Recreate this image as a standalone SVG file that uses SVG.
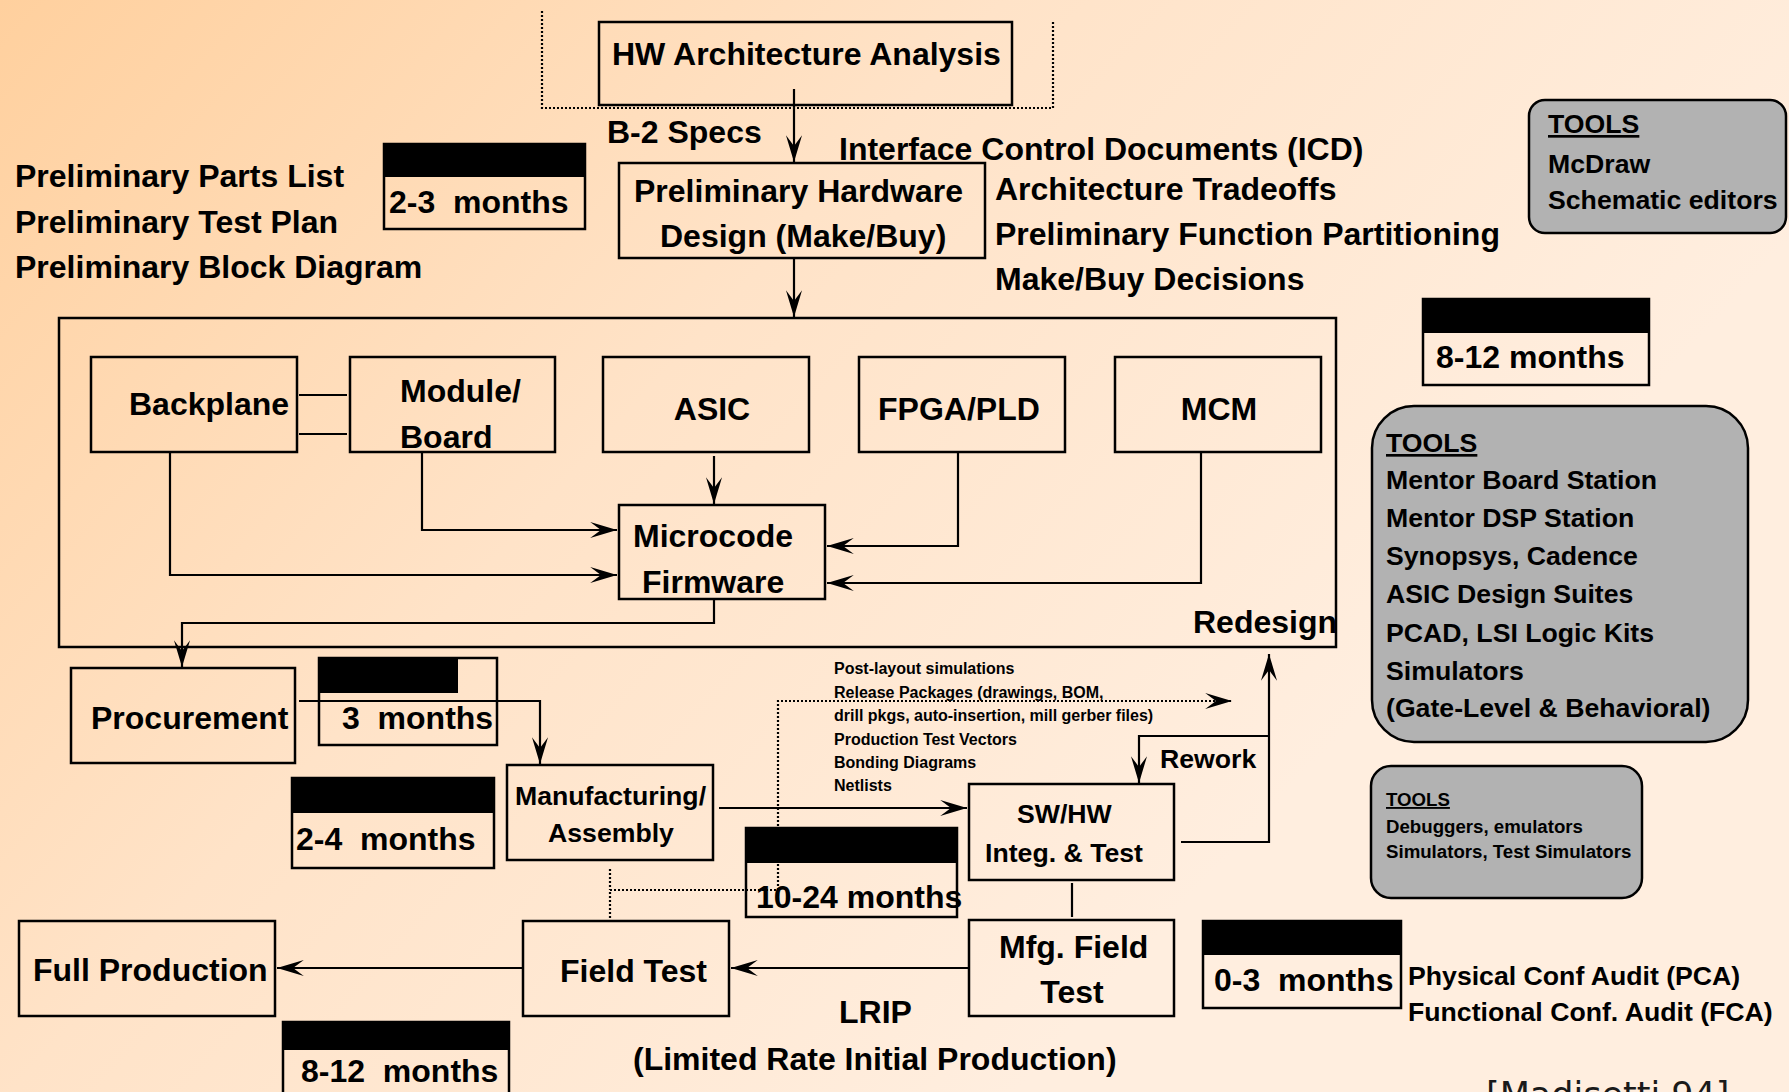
<svg xmlns="http://www.w3.org/2000/svg" width="1789" height="1092" viewBox="0 0 1789 1092">
  <defs>
    <linearGradient id="bg" gradientUnits="userSpaceOnUse" x1="0" y1="0" x2="1100" y2="1000">
      <stop offset="0" stop-color="#FFD09E"/>
      <stop offset="0.5" stop-color="#FFE3C8"/>
      <stop offset="1" stop-color="#FFEEDF"/>
    </linearGradient>
    <marker id="arrow" markerUnits="userSpaceOnUse" markerWidth="30" markerHeight="20" viewBox="-26 -9 28 18" refX="0" refY="0" orient="auto">
      <path d="M0,0 L-25,-7.5 L-15,0 L-25,7.5 Z" fill="#000"/>
    </marker>
  </defs>
  <style>
    text { font-family: "Liberation Sans", Arial, sans-serif; font-weight: bold; fill: #000; }
    .l { font-size: 32px; }
    .m { font-size: 26.67px; }
    .s { font-size: 18.67px; }
    .xs { font-size: 16px; }
    .box { fill: none; stroke: #000; stroke-width: 2.5; }
    .tools { fill: #B2B2B2; stroke: #000; stroke-width: 2.5; }
    .band { fill: #000; }
    .conn { fill: none; stroke: #000; stroke-width: 2.2; }
    .arr { marker-end: url(#arrow); }
    .dot { fill: none; stroke: #000; stroke-width: 2.2; stroke-dasharray: 2 2; }
    .ul { text-decoration: underline; }
  </style>

  <rect x="0" y="0" width="1789" height="1092" fill="url(#bg)"/>

  <!-- free-standing annotations -->
  <g id="notes">
    <text class="l" x="15" y="187">Preliminary Parts List</text>
    <text class="l" x="15" y="233">Preliminary Test Plan</text>
    <text class="l" x="15" y="278">Preliminary Block Diagram</text>
    <text class="l" x="607" y="143">B-2 Specs</text>
    <text class="l" x="839" y="160">Interface Control Documents (ICD)</text>
    <text class="l" x="995" y="200">Architecture Tradeoffs</text>
    <text class="l" x="995" y="245">Preliminary Function Partitioning</text>
    <text class="l" x="995" y="290">Make/Buy Decisions</text>
    <text class="l" x="1193" y="633">Redesign</text>
    <text class="m" x="1160" y="768">Rework</text>
    <text class="xs" x="834" y="674">Post-layout simulations</text>
    <text class="xs" x="834" y="698">Release Packages (drawings, BOM,</text>
    <text class="xs" x="834" y="721">drill pkgs, auto-insertion, mill gerber files)</text>
    <text class="xs" x="834" y="745">Production Test Vectors</text>
    <text class="xs" x="834" y="768">Bonding Diagrams</text>
    <text class="xs" x="834" y="791">Netlists</text>
    <text class="l" x="839" y="1023">LRIP</text>
    <text class="l" x="633" y="1070">(Limited Rate Initial Production)</text>
    <text class="m" x="1408" y="985">Physical Conf Audit (PCA)</text>
    <text class="m" x="1408" y="1021">Functional Conf. Audit (FCA)</text>
    <text x="1486" y="1107" style="font-family:'DejaVu Sans',sans-serif;font-weight:normal;font-size:35px;fill:#1a1a1a">[Madisetti 94]</text>
  </g>

  <!-- connectors -->
  <g id="connectors">
    <polyline class="dot" points="542,11 542,108 1053,108 1053,20"/>
    <line class="conn arr" x1="794" y1="89" x2="794" y2="162"/>
    <line class="conn arr" x1="794" y1="258" x2="794" y2="317"/>
    <line class="conn" x1="299" y1="395" x2="347" y2="395"/>
    <line class="conn" x1="299" y1="434" x2="347" y2="434"/>
    <line class="conn arr" x1="714" y1="456" x2="714" y2="504"/>
    <polyline class="conn arr" points="422,453 422,530 617,530"/>
    <polyline class="conn arr" points="170,453 170,575 617,575"/>
    <polyline class="conn arr" points="958,453 958,546 827,546"/>
    <polyline class="conn arr" points="1201,453 1201,583 827,583"/>
    <polyline class="conn arr" points="714,599 714,623 182,623 182,667"/>
    <polyline class="conn arr" points="299,701 540,701 540,764"/>
    <line class="conn arr" x1="719" y1="808" x2="967" y2="808"/>
    <line class="dot" x1="610" y1="869" x2="610" y2="890"/>
    <polyline class="dot arr" points="610,918 610,890 778,890 778,701 1232,701"/>
    <polyline class="conn arr" points="1181,842 1269,842 1269,654"/>
    <polyline class="conn arr" points="1269,736 1139,736 1139,783"/>
    <line class="conn" x1="1072" y1="883" x2="1072" y2="917"/>
    <line class="conn arr" x1="969" y1="968" x2="731" y2="968"/>
    <line class="conn arr" x1="523" y1="968" x2="277" y2="968"/>
  </g>

  <!-- process nodes -->
  <g id="hw-arch">
    <rect class="box" x="599" y="22" width="413" height="83"/>
    <text class="l" x="612" y="65">HW Architecture Analysis</text>
  </g>
  <g id="prelim-hw">
    <rect class="box" x="619" y="163" width="366" height="95"/>
    <text class="l" x="634" y="202">Preliminary Hardware</text>
    <text class="l" x="660" y="247">Design (Make/Buy)</text>
  </g>
  <g id="design-block">
    <rect class="box" x="59" y="318" width="1277" height="329"/>
  </g>
  <g id="backplane">
    <rect class="box" x="91" y="357" width="206" height="95"/>
    <text class="l" x="129" y="415">Backplane</text>
  </g>
  <g id="module-board">
    <rect class="box" x="350" y="357" width="205" height="95"/>
    <text class="l" x="400" y="402">Module/</text>
    <text class="l" x="400" y="448">Board</text>
  </g>
  <g id="asic">
    <rect class="box" x="603" y="357" width="206" height="95"/>
    <text class="l" x="712" y="420" text-anchor="middle">ASIC</text>
  </g>
  <g id="fpga">
    <rect class="box" x="859" y="357" width="206" height="95"/>
    <text class="l" x="878" y="420">FPGA/PLD</text>
  </g>
  <g id="mcm">
    <rect class="box" x="1115" y="357" width="206" height="95"/>
    <text class="l" x="1219" y="420" text-anchor="middle">MCM</text>
  </g>
  <g id="microcode">
    <rect class="box" x="619" y="505" width="206" height="94"/>
    <text class="l" x="633" y="547">Microcode</text>
    <text class="l" x="642" y="593">Firmware</text>
  </g>
  <g id="procurement">
    <rect class="box" x="71" y="668" width="224" height="95"/>
    <text class="l" x="91" y="729">Procurement</text>
  </g>
  <g id="manufacturing">
    <rect class="box" x="507" y="765" width="206" height="95"/>
    <text class="m" x="515" y="805">Manufacturing/</text>
    <text class="m" x="548" y="842">Assembly</text>
  </g>
  <g id="sw-hw">
    <rect class="box" x="969" y="784" width="205" height="96"/>
    <text class="m" x="1017" y="823">SW/HW</text>
    <text class="m" x="985" y="862">Integ. &amp; Test</text>
  </g>
  <g id="mfg-field-test">
    <rect class="box" x="969" y="920" width="205" height="96"/>
    <text class="l" x="999" y="958">Mfg. Field</text>
    <text class="l" x="1072" y="1003" text-anchor="middle">Test</text>
  </g>
  <g id="field-test">
    <rect class="box" x="523" y="921" width="206" height="95"/>
    <text class="l" x="560" y="982">Field Test</text>
  </g>
  <g id="full-production">
    <rect class="box" x="19" y="921" width="256" height="95"/>
    <text class="l" x="33" y="981">Full Production</text>
  </g>

  <!-- schedule durations -->
  <g id="dur-2-3">
    <rect class="band" x="384" y="144" width="201" height="33"/>
    <rect class="box" x="384" y="144" width="201" height="85"/>
    <text class="l" x="389" y="213">2-3&#160; months</text>
  </g>
  <g id="dur-8-12-top">
    <rect class="band" x="1423" y="299" width="226" height="34"/>
    <rect class="box" x="1423" y="299" width="226" height="86"/>
    <text class="l" x="1436" y="368">8-12 months</text>
  </g>
  <g id="dur-3">
    <rect class="band" x="319" y="658" width="139" height="35"/>
    <rect class="box" x="319" y="658" width="178" height="87"/>
    <text class="l" x="342" y="729">3&#160; months</text>
  </g>
  <g id="dur-2-4">
    <rect class="band" x="292" y="778" width="202" height="35"/>
    <rect class="box" x="292" y="778" width="202" height="90"/>
    <text class="l" x="296" y="850">2-4&#160; months</text>
  </g>
  <g id="dur-10-24">
    <rect class="band" x="746" y="828" width="211" height="35"/>
    <rect class="box" x="746" y="828" width="211" height="89"/>
    <text class="l" x="756" y="908">10-24 months</text>
  </g>
  <g id="dur-0-3">
    <rect class="band" x="1203" y="921" width="198" height="34"/>
    <rect class="box" x="1203" y="921" width="198" height="87"/>
    <text class="l" x="1214" y="991">0-3&#160; months</text>
  </g>
  <g id="dur-8-12-bottom">
    <rect class="band" x="283" y="1022" width="226" height="28"/>
    <rect class="box" x="283" y="1022" width="226" height="90"/>
    <text class="l" x="301" y="1082">8-12&#160; months</text>
  </g>

  <!-- tool lists -->
  <g id="tools-1">
    <rect class="tools" x="1529" y="100" width="257" height="133" rx="16"/>
    <text class="m ul" x="1548" y="133">TOOLS</text>
    <text class="m" x="1548" y="173">McDraw</text>
    <text class="m" x="1548" y="209">Schematic editors</text>
  </g>
  <g id="tools-2">
    <rect class="tools" x="1372" y="406" width="376" height="336" rx="42"/>
    <text class="m ul" x="1386" y="452">TOOLS</text>
    <text class="m" x="1386" y="489">Mentor Board Station</text>
    <text class="m" x="1386" y="527">Mentor DSP Station</text>
    <text class="m" x="1386" y="565">Synopsys, Cadence</text>
    <text class="m" x="1386" y="603">ASIC Design Suites</text>
    <text class="m" x="1386" y="642">PCAD, LSI Logic Kits</text>
    <text class="m" x="1386" y="680">Simulators</text>
    <text class="m" x="1386" y="717">(Gate-Level &amp; Behavioral)</text>
  </g>
  <g id="tools-3">
    <rect class="tools" x="1371" y="766" width="271" height="132" rx="20"/>
    <text class="s ul" x="1386" y="806">TOOLS</text>
    <text class="s" x="1386" y="833">Debuggers, emulators</text>
    <text class="s" x="1386" y="858">Simulators, Test Simulators</text>
  </g>
</svg>
